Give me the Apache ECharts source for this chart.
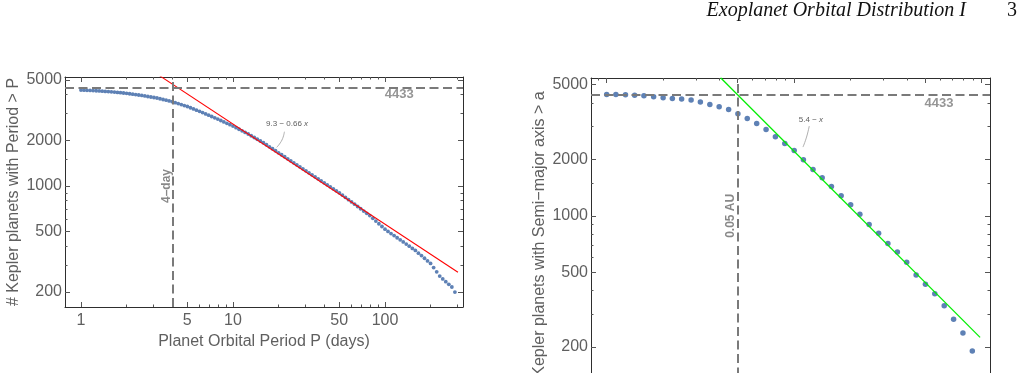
<!DOCTYPE html>
<html>
<head>
<meta charset="utf-8">
<title>Exoplanet Orbital Distribution</title>
<script src="https://cdn.jsdelivr.net/npm/echarts@6/dist/echarts.min.js"></script>
<style>
  html, body { margin: 0; padding: 0; background: #fff; }
  #main { width: 1020px; height: 373px; }
</style>
</head>
<body>
<div id="main"></div>
<script type="text/javascript">
// left panel: planets with orbital period above P (days)
var periodDays = [
  1.000, 1.047, 1.096, 1.148, 1.202, 1.259, 1.318, 1.380, 1.445, 1.514,
  1.585, 1.660, 1.738, 1.820, 1.905, 1.995, 2.089, 2.188, 2.291, 2.399,
  2.512, 2.630, 2.754, 2.884, 3.020, 3.162, 3.311, 3.467, 3.631, 3.802,
  3.981, 4.169, 4.365, 4.571, 4.786, 5.012, 5.248, 5.495, 5.754, 6.026,
  6.310, 6.607, 6.918, 7.244, 7.586, 7.943, 8.318, 8.710, 9.120, 9.550,
  10.00, 10.47, 10.96, 11.48, 12.02, 12.59, 13.18, 13.80, 14.45, 15.14,
  15.85, 16.60, 17.38, 18.20, 19.05, 19.95, 20.89, 21.88, 22.91, 23.99,
  25.12, 26.30, 27.54, 28.84, 30.20, 31.62, 33.11, 34.67, 36.31, 38.02,
  39.81, 41.69, 43.65, 45.71, 47.86, 50.12, 52.48, 54.95, 57.54, 60.26,
  63.10, 66.07, 69.18, 72.44, 75.86, 79.43, 83.18, 87.10, 91.20, 95.50,
  100.0, 104.7, 109.6, 114.8, 120.2, 125.9, 131.8, 138.0, 144.5, 151.4,
  158.5, 166.0, 173.8, 182.0, 190.5, 199.5, 208.9, 218.8, 229.1, 239.9,
  251.2, 263.0, 275.4, 288.4
];
var countAbovePeriod = [
  4295, 4285, 4276, 4266, 4256, 4246, 4232, 4219, 4205, 4192,
  4178, 4159, 4140, 4121, 4102, 4083, 4057, 4031, 4005, 3979,
  3954, 3923, 3892, 3862, 3832, 3802, 3760, 3719, 3678, 3638,
  3597, 3545, 3493, 3442, 3392, 3342, 3281, 3221, 3162, 3105,
  3048, 2988, 2930, 2872, 2816, 2761, 2703, 2646, 2591, 2537,
  2483, 2424, 2367, 2311, 2256, 2203, 2145, 2088, 2033, 1980,
  1928, 1870, 1814, 1760, 1708, 1656, 1607, 1559, 1511, 1466,
  1422, 1380, 1338, 1298, 1260, 1222, 1185, 1150, 1115, 1082,
  1050, 1018, 988, 958, 929, 902, 871, 841, 813, 785,
  759, 733, 708, 684, 661, 638, 612, 587, 564, 541,
  519, 502, 486, 471, 456, 442, 428, 414, 401, 388,
  376, 361, 348, 334, 321, 309, 290, 272, 255, 244,
  234, 225, 216, 200
];

// right panel: planets with semi-major axis above a (AU)
var semiMajorAU = [
  0.0100, 0.0112, 0.0126, 0.0141, 0.0158, 0.0178, 0.0200, 0.0224, 0.0251, 0.0282,
  0.0316, 0.0355, 0.0398, 0.0447, 0.0501, 0.0562, 0.0631, 0.0708, 0.0794, 0.0891,
  0.100, 0.112, 0.126, 0.141, 0.158, 0.178, 0.200, 0.224, 0.251, 0.282,
  0.316, 0.355, 0.398, 0.447, 0.501, 0.562, 0.631, 0.708, 0.794, 0.891
];
var countAboveAxis = [
  4431, 4429, 4418, 4392, 4370, 4318, 4265, 4228, 4193, 4142,
  4041, 3928, 3815, 3693, 3502, 3307, 3110, 2888, 2640, 2432,
  2232, 1990, 1767, 1595, 1434, 1279, 1145, 1021, 899, 808,
  712, 642, 566, 484, 432, 384, 332, 281, 237, 190
];

var totalPlanets = 4433;
var periodCut = 4;
var axisCut = 0.05;
// fitted power laws, end points
var periodFit = [[3.3, 5320], [302, 270]];
var axisFit = [[0.0405, 5450], [0.98, 225]];

// tick marks
var periodMajor = [1, 5, 10, 50, 100];
var periodMinor = [2, 3, 4, 6, 7, 8, 9, 20, 30, 40, 60, 70, 80, 90, 200, 300];
var auMajor = [0.01, 0.05, 0.1, 0.5, 1];
var auMinor = [0.009, 0.02, 0.03, 0.04, 0.06, 0.07, 0.08, 0.09, 0.2, 0.3, 0.4, 0.6, 0.7, 0.8, 0.9];
var countMajor = [200, 500, 1000, 2000, 5000];
var countMinor = [300, 400, 600, 700, 800, 900, 1500, 3000, 4000];

var textGray = '#5f5f5f';
var dotBlue = '#5E81B5';

function pairs(xs, ys) {
    return xs.map(function (x, i) { return [x, ys[i]]; });
}

function fmt(v) {
    return String(+(+v).toPrecision(6));
}

function tickAxis(grid, pos, range, ticks, len, withLine) {
    return {
        type: 'log',
        gridIndex: grid,
        position: pos,
        min: range[0],
        max: range[1],
        silent: true,
        splitLine: {show: false},
        axisLabel: {show: false},
        axisLine: {show: withLine, onZero: false, lineStyle: {color: '#2e2e2e', width: 1}},
        axisTick: {show: true, inside: true, length: len, customValues: ticks,
                   lineStyle: {color: '#555', width: 1}}
    };
}

// frame like mathematica: major + minor ticks on both sides
function frame(grid, dim, range, major, minor, extra) {
    var sides = dim === 'x' ? ['bottom', 'top'] : ['left', 'right'];
    var first = Object.assign(tickAxis(grid, sides[0], range, major, 5, true), extra);
    return [
        first,
        tickAxis(grid, sides[0], range, minor, 2.5, false),
        tickAxis(grid, sides[1], range, major, 5, true),
        tickAxis(grid, sides[1], range, minor, 2.5, false)
    ];
}

function labelsOn(values, margin) {
    return {show: true, customValues: values, margin: margin, color: textGray,
            fontSize: 16, fontFamily: 'Liberation Sans', formatter: fmt};
}

var nameStyle = {color: textGray, fontSize: 16, fontFamily: 'Liberation Sans'};

var xAxes = [].concat(
    frame(0, 'x', [0.785, 326], periodMajor, periodMinor, {
        axisLabel: labelsOn(periodMajor, 6),
        name: 'Planet Orbital Period P (days)',
        nameLocation: 'middle', nameGap: 27, nameTextStyle: nameStyle
    }),
    frame(1, 'x', [0.00825, 1.107], auMajor, auMinor, {
        axisLabel: labelsOn(auMajor, 6)
    })
);
var yAxes = [].concat(
    frame(0, 'y', [159.4, 5231], countMajor, countMinor, {
        axisLabel: labelsOn(countMajor, 3),
        name: '# Kepler planets with Period > P',
        nameLocation: 'middle', nameGap: 43, nameTextStyle: nameStyle
    }),
    frame(1, 'y', [100, 5430], countMajor, countMinor, {
        axisLabel: labelsOn(countMajor, 3),
        name: '# Kepler planets with Semi\u2212major axis > a',
        nameLocation: 'middle', nameGap: 43, nameTextStyle: nameStyle
    })
);

function guides(xCut) {
    return {
        silent: true,
        symbol: 'none',
        label: {show: false},
        lineStyle: {color: '#7a7a7a', width: 2, type: [9, 4.5]},
        data: [{xAxis: xCut}, {yAxis: totalPlanets}]
    };
}

function notes(ax, items) {
    return {
        type: 'scatter', xAxisIndex: ax, yAxisIndex: ax, symbolSize: 0, silent: true, z: 5,
        label: {show: true, position: 'inside', fontFamily: 'Liberation Sans'},
        data: items
    };
}

var option = {
    animation: false,
    backgroundColor: '#fff',
    grid: [
        {left: 65, top: 77, width: 398, height: 230, outerBoundsMode: 'none'},
        {left: 591, top: 78, width: 399, height: 325.4, outerBoundsMode: 'none'}
    ],
    xAxis: xAxes,
    yAxis: yAxes,
    graphic: [
        {type: 'text', right: 54, top: 1,
         style: {text: 'Exoplanet Orbital Distribution I', fill: '#111',
                 font: 'italic 20px "Liberation Serif"'}},
        {type: 'text', right: 3, top: 1,
         style: {text: '3', fill: '#111', font: '20px "Liberation Serif"'}}
    ],
    series: [
        {
            type: 'scatter', xAxisIndex: 0, yAxisIndex: 0, silent: true,
            data: pairs(periodDays, countAbovePeriod),
            symbolSize: 3.8, itemStyle: {color: dotBlue, opacity: 1},
            markLine: guides(periodCut)
        },
        {
            type: 'line', xAxisIndex: 0, yAxisIndex: 0, data: periodFit, z: 4,
            showSymbol: false, silent: true, lineStyle: {color: '#ff0000', width: 1.1}
        },
        {
            type: 'line', xAxisIndex: 0, yAxisIndex: 0, smooth: true, z: 4,
            data: [[21.8, 2280], [21.0, 2010], [19.4, 1799]],
            showSymbol: false, silent: true, lineStyle: {color: '#9a9a9a', width: 0.8}
        },
        notes(0, [
            {value: [124, totalPlanets],
             label: {formatter: '4433', offset: [0, 7], fontSize: 13, fontWeight: 'bold', color: '#7a7a7a'}},
            {value: [periodCut, 1000],
             label: {formatter: '4\u2013day', rotate: 90, offset: [0, -6], fontSize: 12, fontWeight: 'bold', color: '#6a6a6a'}},
            {value: [22.7, 2563],
             label: {formatter: '9.3 \u2212 0.66 {i|x}', fontSize: 8, color: '#333',
                     rich: {i: {fontStyle: 'italic', fontSize: 8, color: '#333'}}}}
        ]),

        {
            type: 'scatter', xAxisIndex: 4, yAxisIndex: 4, silent: true,
            data: pairs(semiMajorAU, countAboveAxis),
            symbolSize: 5.5, itemStyle: {color: dotBlue, opacity: 1},
            markLine: guides(axisCut)
        },
        {
            type: 'line', xAxisIndex: 4, yAxisIndex: 4, data: axisFit, z: 4,
            showSymbol: false, silent: true, lineStyle: {color: '#00ee00', width: 1.3}
        },
        {
            type: 'line', xAxisIndex: 4, yAxisIndex: 4, smooth: true, z: 4,
            data: [[0.1203, 3011], [0.1164, 2630], [0.1114, 2326]],
            showSymbol: false, silent: true, lineStyle: {color: '#9a9a9a', width: 0.8}
        },
        notes(4, [
            {value: [0.592, totalPlanets],
             label: {formatter: '4433', offset: [0, 9], fontSize: 13, fontWeight: 'bold', color: '#7a7a7a'}},
            {value: [axisCut, 1000],
             label: {formatter: '0.05 AU', rotate: 90, offset: [0, -7], fontSize: 12, fontWeight: 'bold', color: '#6a6a6a'}},
            {value: [0.1229, 3253],
             label: {formatter: '5.4 \u2212 {i|x}', fontSize: 8, color: '#333',
                     rich: {i: {fontStyle: 'italic', fontSize: 8, color: '#333'}}}}
        ])
    ]
};

var chart = echarts.init(document.getElementById('main'));
chart.setOption(option);
</script>
</body>
</html>
